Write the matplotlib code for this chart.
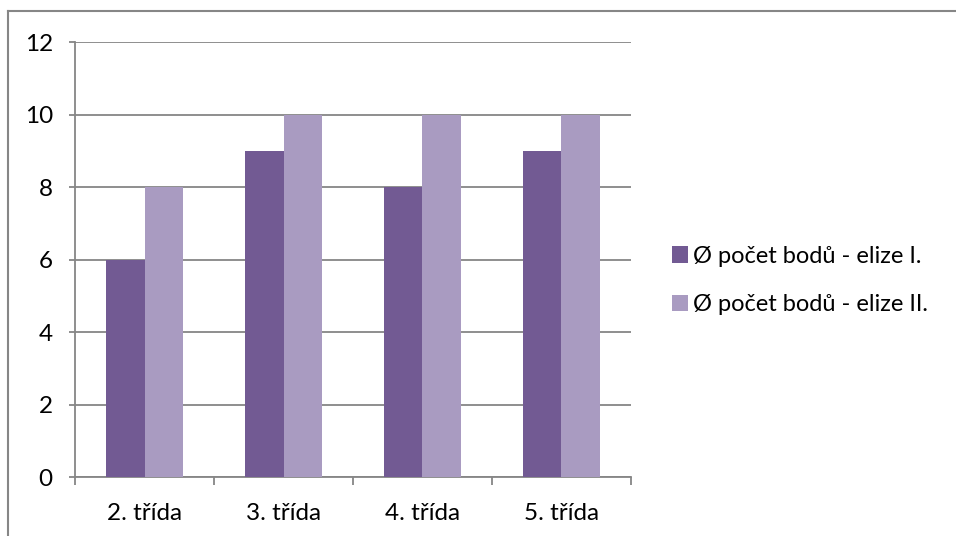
import numpy as np
import matplotlib
matplotlib.use("Agg")
import matplotlib.pyplot as plt
from matplotlib.patches import Patch
from matplotlib.lines import Line2D

plt.rcParams['font.family'] = ['Lato', 'DejaVu Sans']

# ---------- Data ----------
categories = ["2. třída", "3. třída", "4. třída", "5. třída"]
elize_1 = [6, 9, 8, 9]
elize_2 = [8, 10, 10, 10]
series_labels = ["Ø počet bodů - elize I.", "Ø počet bodů - elize II."]
yticks = [0, 2, 4, 6, 8, 10, 12]

DARK = "#725a93"
LIGHT = "#a99bc1"
GRID = "#868686"
FS = 17.5

fig = plt.figure(figsize=(9.56, 5.36), dpi=100)
ax = fig.add_axes([0.0785, 0.110, 0.5815, 0.8116])

x = np.arange(len(categories))
w = 0.28
ax.bar(x - w / 2, elize_1, width=w, color=DARK, zorder=3)
ax.bar(x + w / 2, elize_2, width=w, color=LIGHT, zorder=3)

ax.set_xlim(-0.5, len(categories) - 0.5)
ax.set_ylim(0, 12)
ax.set_yticks(yticks)
ax.set_yticklabels([str(v) for v in yticks], fontsize=FS)
ax.yaxis.grid(True, color=GRID, linewidth=1.3, zorder=0)

# category labels centered, tick marks between categories
ax.set_xticks(x)
ax.set_xticklabels(categories, fontsize=FS)
ax.tick_params(axis="x", length=0, pad=19)
ax.set_xticks(np.arange(len(categories) + 1) - 0.5, minor=True)
ax.tick_params(axis="x", which="minor", length=6, width=1.3, color=GRID)
ax.tick_params(axis="y", length=4, width=1.3, color=GRID, pad=12)

for side in ["top", "right"]:
    ax.spines[side].set_visible(False)
for side in ["left", "bottom"]:
    ax.spines[side].set_color(GRID)
    ax.spines[side].set_linewidth(1.3)

handles = [Patch(facecolor=DARK), Patch(facecolor=LIGHT)]
fig.legend(handles, series_labels, loc="center left",
           bbox_to_anchor=(0.703, 0.477), frameon=False, fontsize=17,
           handlelength=0.68, handleheight=0.68, handletextpad=0.2,
           labelspacing=1.15, borderpad=0, borderaxespad=0)

# outer chart frame
fig.add_artist(Line2D([8 / 956, 8 / 956], [0, 1 - 11 / 536],
                      transform=fig.transFigure, color=GRID, linewidth=1.5))
fig.add_artist(Line2D([8 / 956, 1], [1 - 11 / 536, 1 - 11 / 536],
                      transform=fig.transFigure, color=GRID, linewidth=1.5))

fig.savefig("out.png", dpi=100)
